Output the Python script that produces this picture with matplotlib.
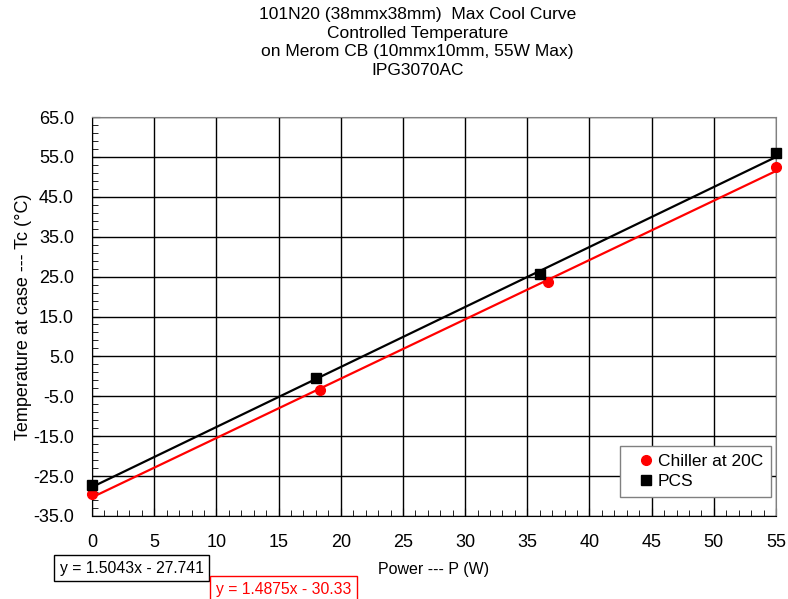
import numpy as np
import matplotlib
matplotlib.use('Agg')
import matplotlib.pyplot as plt
from matplotlib.ticker import MultipleLocator, FixedLocator

plt.rcParams['font.family'] = ['Liberation Sans', 'DejaVu Sans']

# measured points
pcs_x = [0, 18.0, 36.0, 55.0]
pcs_y = [-27.2, -0.3, 25.6, 55.9]
chiller_x = [0, 18.3, 36.7, 55.0]
chiller_y = [-29.5, -3.4, 23.6, 52.4]

# trendline coefficients (slope, intercept) as printed on the chart
pcs_fit = (1.5043, -27.741)
chiller_fit = (1.4875, -30.33)

y_ticks = [-35, -25, -15, -5, 5, 15, 25, 35, 45, 55, 65]

title_lines = ['101N20 (38mmx38mm)  Max Cool Curve',
               'Controlled Temperature',
               'on Merom CB (10mmx10mm, 55W Max)',
               'IPG3070AC']

fig = plt.figure(figsize=(7.88, 5.99), dpi=100)
ax = fig.add_axes([0.1168, 0.1386, 0.868, 0.666])

xx = np.array([0, 55])
ax.plot(xx, pcs_fit[0] * xx + pcs_fit[1], color='black', lw=1.6, zorder=3)
ax.plot(xx, chiller_fit[0] * xx + chiller_fit[1], color='red', lw=1.6, zorder=3)
ax.plot(chiller_x, chiller_y, 'o', color='red', ms=7, label='Chiller at 20C', zorder=4, clip_on=False)
ax.plot(pcs_x, pcs_y, 's', color='black', ms=6.5, label='PCS', zorder=4, clip_on=False)

ax.set_xlim(0, 55)
ax.set_ylim(-35, 65)
ax.xaxis.set_major_locator(MultipleLocator(5))
ax.xaxis.set_minor_locator(MultipleLocator(1))
ax.yaxis.set_major_locator(FixedLocator(y_ticks))
ax.yaxis.set_minor_locator(MultipleLocator(2, offset=1))
ax.set_yticklabels([f'{v:.1f}' for v in y_ticks])
ax.grid(True, which='major', color='black', lw=1)
ax.tick_params(which='both', direction='in', labelsize=13, pad=13, top=False, right=False)
ax.tick_params(which='major', length=6)
ax.tick_params(which='minor', length=4)
for s in ['top', 'right']:
    ax.spines[s].set_color('gray')

ax.set_xlabel('Power --- P (W)', fontsize=11.5, labelpad=8)
ax.set_ylabel('Temperature at case --- Tc (°C)', fontsize=13, labelpad=1)

fig.text(0.53, 0.988, '\n'.join(title_lines), ha='center', va='top', fontsize=12.5, linespacing=1.3)

leg = ax.legend(loc='lower right', bbox_to_anchor=(0.9927, 0.0476), borderaxespad=0,
                fontsize=12.5, frameon=True, fancybox=False, edgecolor='gray', framealpha=1,
                handletextpad=-0.35, handlelength=2.1, borderpad=0.45, labelspacing=0.3)
leg.get_frame().set_linewidth(1)

fig.text(0.076, 0.044, 'y = 1.5043x - 27.741', fontsize=11.3, color='black',
         bbox=dict(boxstyle='square,pad=0.35', fc='white', ec='black', lw=1))
fig.text(0.274, 0.009, 'y = 1.4875x - 30.33', fontsize=11.3, color='red',
         bbox=dict(boxstyle='square,pad=0.35', fc='white', ec='red', lw=1))

fig.savefig('out.png', dpi=100)
